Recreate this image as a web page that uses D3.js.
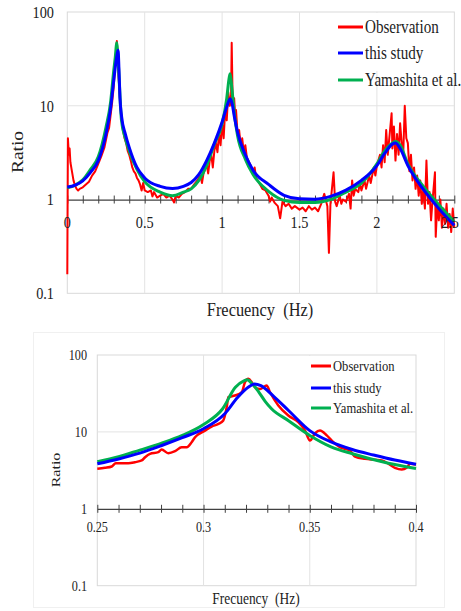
<!DOCTYPE html>
<html>
<head>
<meta charset="utf-8">
<script src="https://cdn.jsdelivr.net/npm/d3@7"></script>
<style>
  html, body { margin: 0; padding: 0; background: #fff; }
  svg { display: block; }
  text { font-family: "Liberation Serif", "DejaVu Serif", "Times New Roman", serif; fill: #222; white-space: pre; }
</style>
</head>
<body>
<svg id="chart" width="461" height="611"></svg>
<script>
// ---- data ----
const seriesNames = ['Observation', 'this study', 'Yamashita et al.'];
const yTicks = [0.1, 1, 10, 100];
const yTickLabels = ['0.1', '1', '10', '100'];
const xTicksTop = [0, 0.5, 1, 1.5, 2, 2.5];
const xTickLabelsTop = ['0', '0.5', '1', '1.5', '2', '2.5'];
const xTicksBottom = [0.25, 0.3, 0.35, 0.4];
const xTickLabelsBottom = ['0.25', '0.3', '0.35', '0.4'];

// top panel, 0 - 2.5 Hz  [freq, ratio]
const obsTop = [
  [0,0.16],[0.004,4.5],[0.01,3.0],[0.015,3.5],[0.02,2.5],[0.03,2.0],[0.04,1.6],[0.05,1.4],[0.06,1.3],
  [0.07,1.25],[0.08,1.3],[0.1,1.35],[0.12,1.45],[0.14,1.55],[0.16,1.8],[0.18,2.0],[0.2,2.4],[0.22,2.9],
  [0.24,3.6],[0.26,5.2],[0.27,5.8],[0.28,8],[0.29,11],[0.3,16],[0.31,28],[0.315,40],[0.32,49],[0.325,35],
  [0.33,22],[0.34,12],[0.35,7.5],[0.36,5.5],[0.37,4.5],[0.38,4.0],[0.39,3.3],[0.4,3.0],[0.41,2.6],[0.42,2.2],
  [0.43,2.0],[0.44,1.9],[0.45,1.7],[0.46,1.6],[0.47,1.45],[0.48,1.25],[0.49,1.5],[0.5,1.25],[0.52,1.2],
  [0.54,1.25],[0.55,1.08],[0.56,1.2],[0.58,1.05],[0.6,1.1],[0.62,1.15],[0.64,1.05],[0.66,1.1],[0.68,1.0],
  [0.69,0.93],[0.7,1.1],[0.72,1.05],[0.74,1.15],[0.76,1.2],[0.78,1.3],[0.8,1.3],[0.82,1.45],[0.84,1.6],
  [0.86,1.8],[0.87,1.5],[0.88,1.9],[0.9,2.4],[0.91,1.9],[0.92,2.6],[0.93,3.0],[0.94,2.2],[0.95,3.3],
  [0.96,4.0],[0.97,3.2],[0.98,5.0],[0.99,3.8],[1.0,6.5],[1.01,4.5],[1.02,9.0],[1.03,7.0],[1.04,14],
  [1.05,10],[1.058,13],[1.062,47],[1.067,15],[1.072,9],[1.078,12],[1.085,7.5],[1.09,9],[1.1,5.0],
  [1.11,5.5],[1.12,3.8],[1.13,4.5],[1.14,3.2],[1.15,3.8],[1.16,2.8],[1.18,2.4],[1.2,1.9],[1.21,2.2],
  [1.22,1.7],[1.24,1.5],[1.26,1.3],[1.28,1.25],[1.3,1.1],[1.31,0.95],[1.32,1.05],[1.34,0.92],[1.36,0.85],
  [1.375,0.63],[1.39,0.95],[1.41,0.85],[1.43,0.9],[1.45,0.8],[1.47,0.85],[1.5,0.78],[1.52,0.82],
  [1.54,0.75],[1.56,0.85],[1.58,0.78],[1.6,0.82],[1.62,0.75],[1.64,0.9],[1.66,1.15],[1.68,0.85],
  [1.69,0.27],[1.7,0.9],[1.72,1.95],[1.73,0.95],[1.74,0.85],[1.76,1.1],[1.77,0.9],[1.78,1.0],[1.8,0.95],
  [1.82,1.15],[1.83,0.8],[1.84,1.6],[1.85,1.1],[1.86,1.3],[1.88,1.2],[1.89,1.5],[1.9,1.25],[1.92,1.6],
  [1.93,1.3],[1.95,1.8],[1.96,1.5],[1.98,2.2],[1.99,1.8],[2.0,2.3],[2.02,3.0],[2.03,2.2],[2.04,3.8],
  [2.05,2.5],[2.06,5.5],[2.07,3.0],[2.08,4.5],[2.095,8.3],[2.1,3.5],[2.11,6.0],[2.12,2.6],[2.13,5.0],
  [2.14,3.0],[2.15,6.5],[2.16,4.0],[2.17,3.0],[2.18,10],[2.19,4.5],[2.2,4.0],[2.21,2.0],[2.22,3.0],
  [2.23,1.6],[2.24,2.2],[2.25,1.3],[2.26,1.8],[2.27,1.1],[2.28,1.6],[2.29,0.9],[2.3,1.3],[2.31,0.8],
  [2.32,2.6],[2.33,0.9],[2.34,1.2],[2.35,0.6],[2.36,1.0],[2.375,1.95],[2.38,0.4],[2.39,0.9],[2.4,0.6],
  [2.41,1.0],[2.42,0.5],[2.43,0.8],[2.44,0.55],[2.45,0.9],[2.46,0.5],[2.47,0.7],[2.48,0.45],[2.49,0.8],[2.5,0.5]
];
const studyTop = [
  [0,1.36],[0.05,1.42],[0.1,1.58],[0.15,1.95],[0.2,2.6],[0.25,5.0],[0.28,9.5],[0.3,18.6],[0.31,25.8],
  [0.32,34],[0.328,39],[0.334,24],[0.34,12.4],[0.351,7.6],[0.375,5.0],[0.4,3.6],[0.45,2.2],[0.5,1.7],
  [0.6,1.38],[0.68,1.31],[0.75,1.38],[0.8,1.52],[0.85,1.85],[0.9,2.6],[0.95,4.0],[1.0,6.7],[1.03,9.7],
  [1.052,11.9],[1.065,10.5],[1.08,7.5],[1.1,5.2],[1.15,3.0],[1.2,2.05],[1.3,1.45],[1.4,1.11],[1.5,1.02],
  [1.6,1.01],[1.7,1.08],[1.8,1.26],[1.9,1.6],[2.0,2.3],[2.05,3.1],[2.1,3.9],[2.12,4.0],[2.15,3.5],
  [2.2,2.3],[2.3,1.28],[2.4,0.8],[2.5,0.53]
];
const yamaTop = [
  [0,1.33],[0.05,1.42],[0.1,1.62],[0.15,2.1],[0.2,2.85],[0.25,5.9],[0.28,11],[0.3,23.7],[0.31,33],
  [0.32,47],[0.326,36],[0.332,24],[0.34,13],[0.35,7],[0.375,4.5],[0.4,3.3],[0.45,2.1],[0.5,1.55],
  [0.6,1.2],[0.68,1.1],[0.75,1.2],[0.8,1.3],[0.85,1.6],[0.9,2.3],[0.95,3.9],[1.0,6.4],[1.03,12],
  [1.046,20],[1.052,22],[1.062,16],[1.08,8],[1.1,4.8],[1.15,2.7],[1.2,1.85],[1.3,1.22],[1.4,0.98],
  [1.5,0.93],[1.6,0.93],[1.7,1.0],[1.8,1.2],[1.9,1.5],[2.0,2.4],[2.05,3.3],[2.1,4.0],[2.12,4.15],
  [2.15,3.8],[2.2,2.4],[2.3,1.38],[2.4,0.88],[2.5,0.58]
];

// bottom panel, zoom 0.25 - 0.4 Hz
const obsBottom = [
  [0.25,3.31],[0.2536,3.41],[0.2568,3.55],[0.2587,3.92],[0.2646,3.92],[0.2677,4.04],[0.2709,4.25],
  [0.2725,4.69],[0.2748,5.19],[0.2787,5.45],[0.2803,5.9],[0.2834,5.28],[0.2866,5.61],[0.2897,6.32],
  [0.2921,6.32],[0.2944,7.35],[0.296,8.53],[0.3007,10.4],[0.3038,11.75],[0.307,12.7],[0.3093,14.1],
  [0.3109,21],[0.3117,28.3],[0.3148,29.7],[0.318,32.8],[0.3195,44.3],[0.3211,49],[0.3227,44.3],
  [0.3242,38],[0.3266,36],[0.3297,40],[0.3313,32.8],[0.3352,22],[0.3399,16.3],[0.3446,13.4],
  [0.3478,10.4],[0.3501,7.73],[0.3525,9.6],[0.3548,10.4],[0.358,9.0],[0.3611,7.35],[0.3642,6.32],
  [0.3689,5.73],[0.3713,4.78],[0.376,4.47],[0.3807,4.34],[0.3839,4.25],[0.387,3.85],[0.3901,3.41],
  [0.3933,3.24],[0.3956,3.41],[0.3972,3.85],[0.4,3.75]
];
const studyBottom = [
  [0.25,3.85],[0.26,4.45],[0.27,5.3],[0.28,6.6],[0.29,8.4],[0.3,11],[0.31,17.2],[0.316,28],[0.321,38],
  [0.324,42],[0.327,40],[0.333,29],[0.34,19],[0.35,10.4],[0.36,7.4],[0.37,5.9],[0.38,5.0],[0.39,4.3],[0.4,3.8]
];
const yamaBottom = [
  [0.25,4.1],[0.26,4.75],[0.27,5.8],[0.28,7.1],[0.29,9.0],[0.3,12.5],[0.309,20],[0.315,38],[0.319,46],
  [0.3205,47.5],[0.323,42],[0.326,33],[0.329,25],[0.332,20],[0.34,14],[0.35,9],[0.36,6.4],[0.37,5.2],
  [0.387,3.92],[0.4,3.35]
];

const colors = ['#ff0000', '#0000ff', '#00b050'];
const SX = 0.84; // the original picture is squeezed horizontally

const svg = d3.select('#chart');

function label(g, x, y, str, size, anchor, rot) {
  return g.append('text')
    .attr('transform', `translate(${x},${y}) scale(${SX},1)` + (rot ? ' rotate(-90)' : ''))
    .attr('text-anchor', anchor)
    .attr('dy', '0.35em')
    .style('font-size', size + 'px')
    .text(str);
}

function panel(opt) {
  const g = svg.append('g');
  const x = d3.scaleLinear().domain(opt.xDomain).range(opt.xRange);
  const y = d3.scaleLog().domain([0.1, 100]).range(opt.yRange);

  // plot area frame + grid
  g.append('rect')
    .attr('x', x.range()[0]).attr('y', y.range()[1])
    .attr('width', x.range()[1] - x.range()[0])
    .attr('height', y.range()[0] - y.range()[1])
    .attr('fill', 'none').attr('stroke', '#d9d9d9');
  g.selectAll('.gx').data(opt.xTicks.slice(1, -1)).enter().append('line')
    .attr('x1', d => x(d)).attr('x2', d => x(d))
    .attr('y1', y.range()[1]).attr('y2', y.range()[0])
    .attr('stroke', '#e3e3e3');
  g.append('line')
    .attr('x1', x.range()[0]).attr('x2', x.range()[1])
    .attr('y1', y(10)).attr('y2', y(10))
    .attr('stroke', '#e3e3e3');

  // axis at ratio = 1 with crossing ticks
  const axis = g.append('g').attr('transform', `translate(0,${y(1)})`)
    .call(d3.axisBottom(x).tickValues(opt.minor).tickSize(8).tickSizeOuter(0).tickFormat(''));
  axis.select('.domain').attr('stroke', '#404040').attr('stroke-width', 1.2);
  axis.selectAll('.tick line').attr('y1', -4).attr('y2', 4).attr('stroke', '#404040');

  // legend background
  g.append('rect')
    .attr('x', opt.legX - 3).attr('y', y.range()[1] + 1)
    .attr('width', x.range()[1] - opt.legX + 2).attr('height', opt.legH)
    .attr('fill', '#fff');

  // series
  const line = d3.line().x(d => x(d[0])).y(d => y(d[1]));
  const lineSmooth = d3.line().x(d => x(d[0])).y(d => y(d[1])).curve(d3.curveMonotoneX);
  g.append('path').datum(opt.obs)
    .attr('d', opt.smoothObs ? lineSmooth : line)
    .attr('fill', 'none').attr('stroke', colors[0]).attr('stroke-width', opt.obsW)
    .attr('stroke-linejoin', 'round');
  g.append('path').datum(opt.yama).attr('d', lineSmooth)
    .attr('fill', 'none').attr('stroke', colors[2]).attr('stroke-width', 3);
  g.append('path').datum(opt.study).attr('d', lineSmooth)
    .attr('fill', 'none').attr('stroke', colors[1]).attr('stroke-width', 3);

  // tick labels (the last one is kept inside the page)
  yTicks.forEach((t, i) => label(g, opt.yLabX, y(t), yTickLabels[i], opt.tickFs, 'end'));
  opt.xTicks.forEach((t, i) => {
    const px = Math.min(x(t), 461 - opt.edgePad);
    label(g, px, opt.xLabY, opt.xTickLabels[i], opt.tickFs, 'middle');
  });

  // titles
  label(g, opt.ratioX, opt.ratioY, 'Ratio', opt.titleFs, 'middle', true);
  label(g, opt.freqX, opt.freqY, 'Frecuency  (Hz)', opt.titleFs, 'middle');

  // legend
  seriesNames.forEach((name, i) => {
    const ly = opt.legY[i];
    g.append('line')
      .attr('x1', opt.legX).attr('x2', opt.legX + opt.legLen)
      .attr('y1', ly).attr('y2', ly)
      .attr('stroke', colors[i]).attr('stroke-width', 3);
    label(g, opt.legX + opt.legLen + 2, ly, name, opt.legFs, 'start');
  });
}

// faint outer frame of the lower chart
svg.append('rect').attr('x', 33.5).attr('y', 332.5).attr('width', 411).attr('height', 275)
  .attr('fill', 'none').attr('stroke', '#f0f0f0');

panel({
  xDomain: [0, 2.5], xRange: [67.3, 454.3], yRange: [293.3, 12],
  xTicks: xTicksTop, xTickLabels: xTickLabelsTop,
  minor: d3.range(0, 26).map(i => i / 10),
  obs: obsTop, study: studyTop, yama: yamaTop, obsW: 2, smoothObs: false,
  yLabX: 54, xLabY: 222, tickFs: 17, edgePad: 11,
  ratioX: 17, ratioY: 152, freqX: 260, freqY: 309, titleFs: 19.5,
  legX: 338, legLen: 25, legY: [27, 53, 80], legFs: 18, legH: 58
});

panel({
  xDomain: [0.25, 0.4], xRange: [97.3, 416], yRange: [585.7, 355],
  xTicks: xTicksBottom, xTickLabels: xTickLabelsBottom,
  minor: d3.range(0, 16).map(i => 0.25 + i / 100),
  obs: obsBottom, study: studyBottom, yama: yamaBottom, obsW: 2.5, smoothObs: true,
  yLabX: 87, xLabY: 527, tickFs: 14.5, edgePad: 14,
  ratioX: 55, ratioY: 470, freqX: 256, freqY: 598, titleFs: 16,
  legX: 311, legLen: 20, legY: [366, 388, 408], legFs: 15, legH: 74
});
</script>
</body>
</html>
